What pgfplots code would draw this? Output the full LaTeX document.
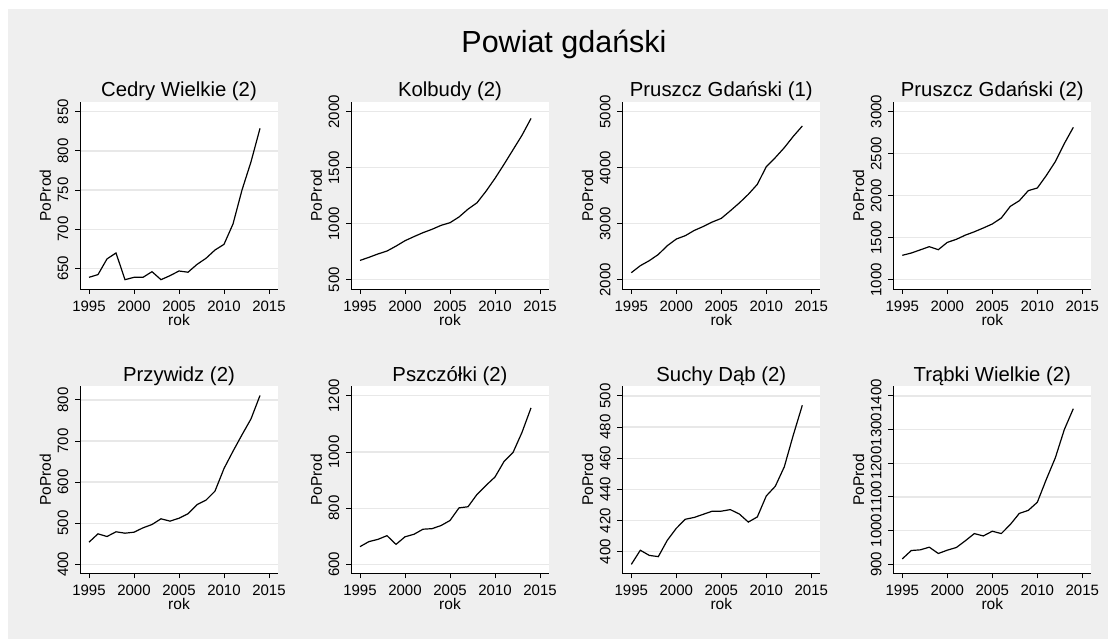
\documentclass[border=0pt]{standalone}
\usepackage{pgfplots}
\pgfplotsset{compat=1.18}
\usepackage{fontspec}
\setmainfont{Liberation Sans}
\definecolor{bggray}{RGB}{239,239,239}
\definecolor{gridgray}{RGB}{232,232,232}

\newcommand{\tickfont}{\fontsize{15}{15}\selectfont}
\newcommand{\labfont}{\fontsize{15.5}{15.5}\selectfont}

\pgfplotsset{
  panel/.style={
    scale only axis, width=198pt, height=187pt,
    anchor=south west,
    xmin=1994, xmax=2016,
    xtick={1995,2000,...,2015},
    axis x line*=bottom, axis y line*=left,
    axis line style={black, line width=0.9pt},
    axis background/.style={fill=white},
    tick align=outside, major tick length=5pt,
    tick style={black, line width=0.9pt},
    ymajorgrids, grid style={gridgray, line width=1.3pt},
    /pgf/number format/1000 sep={},
    /pgf/number format/assume math mode=true,
    xticklabel style={font=\tickfont, anchor=north, inner sep=0pt},
    yticklabel style={font=\tickfont, rotate=90, anchor=south, inner sep=0pt},
    xticklabel shift=6.5pt, yticklabel shift=6.5pt,
    xlabel={rok}, ylabel={PoProd},
    xlabel style={font=\labfont, inner sep=0pt,
      at={(axis description cs:0.5,-0.196)}, anchor=base},
    ylabel style={font=\labfont, inner sep=0pt,
      at={(axis description cs:-0.145,0.5)}, anchor=south},
    every axis title/.style={at={(axis description cs:0.5,1.0267)}, anchor=base,
      inner sep=0pt, font=\fontsize{20.3}{20.3}\selectfont},
    cycle list={{black}},
    no markers,
    every axis plot post/.append style={black, line width=1.2pt},
  }
}

\begin{document}
\begin{tikzpicture}
\fill[white] (0,0) rectangle (1108pt,639pt);
\fill[bggray] (8pt,0) rectangle (1108pt,630pt);
\node[anchor=base, font=\fontsize{30.5}{30.5}\selectfont] at (564pt,586.7pt) {Powiat gdański};

% top row
\begin{axis}[panel, at={(80pt,350pt)}, title={Cedry Wielkie (2)},
  ymin=623.6, ymax=862.4, ytick={650,700,...,850}]
\addplot coordinates {
(1995,638.5) (1996,642) (1997,662) (1998,669.6) (1999,635.5) (2000,638.5)
(2001,638.5) (2002,645.7) (2003,635.5) (2004,640.6) (2005,646.6) (2006,645)
(2007,655) (2008,662.8) (2009,673.4) (2010,680.6) (2011,706.6) (2012,750)
(2013,786) (2014,828.7)};
\end{axis}

\begin{axis}[panel, at={(351pt,350pt)}, title={Kolbudy (2)},
  ymin=417, ymax=2087, ytick={500,1000,...,2000}]
\addplot coordinates {
(1995,672) (1996,700) (1997,730) (1998,756) (1999,800) (2000,848)
(2001,885) (2002,920) (2003,950) (2004,985) (2005,1009) (2006,1060)
(2007,1130) (2008,1187) (2009,1290) (2010,1405) (2011,1530) (2012,1660)
(2013,1790) (2014,1940)};
\end{axis}

\begin{axis}[panel, at={(622.3pt,350pt)}, title={Pruszcz Gdański (1)},
  ymin=1834, ymax=5173, ytick={2000,3000,...,5000}]
\addplot coordinates {
(1995,2125) (1996,2250) (1997,2340) (1998,2450) (1999,2607) (2000,2726)
(2001,2786) (2002,2880) (2003,2950) (2004,3030) (2005,3095) (2006,3230)
(2007,3370) (2008,3524) (2009,3702) (2010,4018) (2011,4180) (2012,4357)
(2013,4560) (2014,4744)};
\end{axis}

\begin{axis}[panel, at={(893.3pt,350pt)}, title={Pruszcz Gdański (2)},
  ymin=889, ymax=3115, ytick={1000,1500,...,3000}]
\addplot coordinates {
(1995,1290) (1996,1317) (1997,1355) (1998,1393) (1999,1357) (2000,1444)
(2001,1480) (2002,1530) (2003,1570) (2004,1615) (2005,1663) (2006,1734)
(2007,1873) (2008,1940) (2009,2060) (2010,2091) (2011,2240) (2012,2405)
(2013,2620) (2014,2813)};
\end{axis}

% bottom row
\begin{axis}[panel, at={(80pt,65.7pt)}, title={Przywidz (2)},
  ymin=378, ymax=833, ytick={400,500,...,800}]
\addplot coordinates {
(1995,453.7) (1996,474) (1997,467.5) (1998,479) (1999,475.6) (2000,478)
(2001,488.6) (2002,496.7) (2003,510.6) (2004,504.9) (2005,512) (2006,522.8)
(2007,545) (2008,556) (2009,578) (2010,633) (2011,675) (2012,715)
(2013,753.7) (2014,810.6)};
\end{axis}

\begin{axis}[panel, at={(351pt,65.7pt)}, title={Pszczółki (2)},
  ymin=568, ymax=1234, ytick={600,800,...,1200}]
\addplot coordinates {
(1995,663) (1996,681) (1997,689) (1998,702) (1999,671) (2000,698)
(2001,707) (2002,725) (2003,727) (2004,738) (2005,756) (2006,801)
(2007,805) (2008,849) (2009,881) (2010,911) (2011,966) (2012,998)
(2013,1070) (2014,1157)};
\end{axis}

\begin{axis}[panel, at={(622.3pt,65.7pt)}, title={Suchy Dąb (2)},
  ymin=386.1, ymax=506.2, ytick={400,420,...,500}]
\addplot coordinates {
(1995,391.8) (1996,400.9) (1997,397.6) (1998,396.8) (1999,407.3) (2000,415)
(2001,420.8) (2002,422) (2003,424) (2004,426) (2005,426) (2006,427)
(2007,424.2) (2008,419) (2009,422.3) (2010,435.8) (2011,442) (2012,454.5)
(2013,474.9) (2014,494)};
\end{axis}

\begin{axis}[panel, at={(893.3pt,65.7pt)}, title={Trąbki Wielkie (2)},
  ymin=873, ymax=1428.6, ytick={900,1000,...,1400}]
\addplot coordinates {
(1995,915.9) (1996,940.7) (1997,942.7) (1998,950.6) (1999,931.8) (2000,941.7)
(2001,949.6) (2002,969.5) (2003,991) (2004,984) (2005,998) (2006,991)
(2007,1018) (2008,1051) (2009,1060) (2010,1084) (2011,1152) (2012,1216)
(2013,1300) (2014,1362)};
\end{axis}

\pgfresetboundingbox
\useasboundingbox (0,0) rectangle (1108pt,639pt);
\end{tikzpicture}
\end{document}
